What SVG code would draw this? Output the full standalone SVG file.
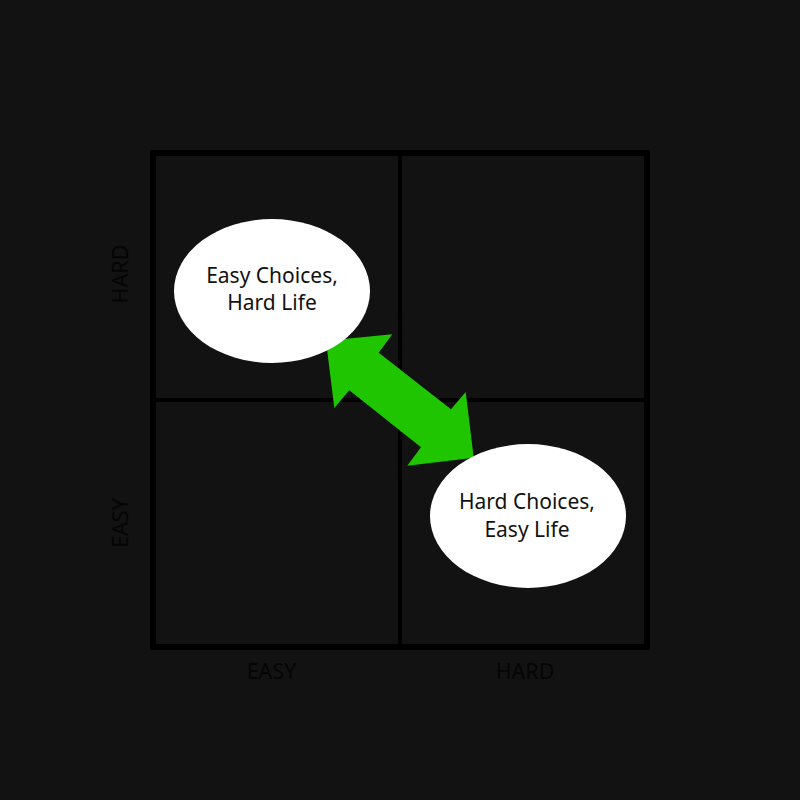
<svg xmlns="http://www.w3.org/2000/svg" width="800" height="800" viewBox="0 0 800 800">
<style>
.bub{fill:#ffffff}
.t{font-family:"Noto Sans","Open Sans",sans-serif;font-size:21px;fill:#111111;text-anchor:middle}
.ax{font-family:"Noto Sans","Open Sans",sans-serif;font-size:21.5px;fill:#050505;text-anchor:middle}
.grid{fill:none;stroke:#000000}
</style>
<rect width="800" height="800" fill="#121212"/>
<g id="grid">
<rect class="grid" x="153" y="153" width="494" height="494" stroke-width="6"/>
<line class="grid" x1="400" y1="153" x2="400" y2="647" stroke-width="4"/>
<line class="grid" x1="153" y1="400" x2="647" y2="400" stroke-width="4"/>
</g>
<g id="axis-labels">
<text class="ax" x="271.5" y="679">EASY</text>
<text class="ax" x="525" y="679">HARD</text>
<text class="ax" transform="translate(128,274) rotate(-90)">HARD</text>
<text class="ax" transform="translate(128,523) rotate(-90)">EASY</text>
</g>
<g id="connectors">
<polygon fill="#1fc600" points="326,340.7 392.3,334.3 378.7,352.7 451,409.3 465.7,392 473.7,457.7 407.3,465.7 421,447.3 349.3,390.3 334.3,408"/>
</g>
<g id="node-easy-choices">
<ellipse class="bub" cx="272" cy="291" rx="98" ry="72"/>
<text class="t" x="272" y="282.5">Easy Choices,</text>
<text class="t" x="272" y="310">Hard Life</text>
</g>
<g id="node-hard-choices">
<ellipse class="bub" cx="528" cy="516" rx="98" ry="72"/>
<text class="t" x="527" y="509">Hard Choices,</text>
<text class="t" x="527" y="536.5">Easy Life</text>
</g>
</svg>
